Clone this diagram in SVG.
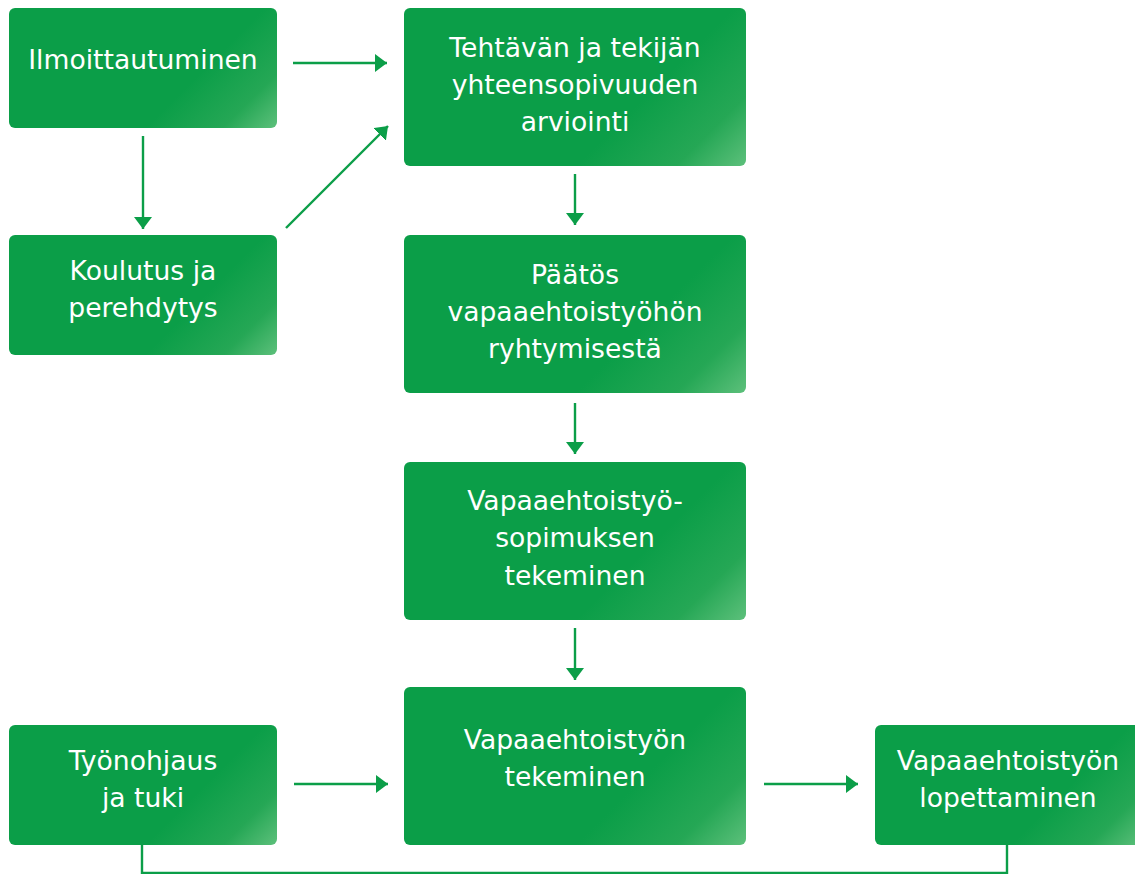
<svg xmlns="http://www.w3.org/2000/svg" width="1135" height="874" viewBox="0 0 1135 874">
<style>
.t{font-family:"DejaVu Sans",sans-serif;font-size:26.6px;fill:#fff;text-anchor:middle}
.c{stroke:#0b9e48;stroke-width:2.4;fill:none}
</style>
<defs>
<linearGradient id="gs" gradientUnits="userSpaceOnUse" x1="0" y1="0" x2="194" y2="194">
<stop offset="0" stop-color="#0b9e48"/>
<stop offset="0.66" stop-color="#0b9e48"/>
<stop offset="0.86" stop-color="#25a755"/>
<stop offset="1" stop-color="#5dc07b"/>
</linearGradient>
<linearGradient id="gl" gradientUnits="userSpaceOnUse" x1="0" y1="0" x2="250" y2="250">
<stop offset="0" stop-color="#0b9e48"/>
<stop offset="0.66" stop-color="#0b9e48"/>
<stop offset="0.86" stop-color="#25a755"/>
<stop offset="1" stop-color="#5dc07b"/>
</linearGradient>
<marker id="a" markerUnits="userSpaceOnUse" markerWidth="14" markerHeight="18" refX="12" refY="9" orient="auto">
<path d="M0,0 L12,9 L0,18 Z" fill="#0b9e48"/>
</marker>
</defs>
<g id="connectors">
<line class="c" x1="293" y1="63" x2="387" y2="63" marker-end="url(#a)"/>
<line class="c" x1="143" y1="136" x2="143" y2="229" marker-end="url(#a)"/>
<line class="c" x1="286" y1="228" x2="388" y2="126" marker-end="url(#a)"/>
<line class="c" x1="575" y1="174" x2="575" y2="225" marker-end="url(#a)"/>
<line class="c" x1="575" y1="403" x2="575" y2="454" marker-end="url(#a)"/>
<line class="c" x1="575" y1="628" x2="575" y2="680" marker-end="url(#a)"/>
<line class="c" x1="294" y1="784" x2="388" y2="784" marker-end="url(#a)"/>
<line class="c" x1="764" y1="784" x2="858" y2="784" marker-end="url(#a)"/>
<polyline class="c" points="142,845 142,873 1007,873 1007,845"/>
</g>
<g id="n1" transform="translate(9,8)"><rect fill="url(#gs)" width="268" height="120" rx="6"/><text class="t" x="134" y="61">Ilmoittautuminen</text></g>
<g id="n2" transform="translate(9,235)"><rect fill="url(#gs)" width="268" height="120" rx="6"/><text class="t" x="134" y="45">Koulutus ja</text><text class="t" x="134" y="82">perehdytys</text></g>
<g id="n3" transform="translate(404,8)"><rect fill="url(#gl)" width="342" height="158" rx="6"/><text class="t" x="171" y="49">Tehtävän ja tekijän</text><text class="t" x="171" y="86">yhteensopivuuden</text><text class="t" x="171" y="123">arviointi</text></g>
<g id="n4" transform="translate(404,235)"><rect fill="url(#gl)" width="342" height="158" rx="6"/><text class="t" x="171" y="49">Päätös</text><text class="t" x="171" y="86">vapaaehtoistyöhön</text><text class="t" x="171" y="123">ryhtymisestä</text></g>
<g id="n5" transform="translate(404,462)"><rect fill="url(#gl)" width="342" height="158" rx="6"/><text class="t" x="171" y="48">Vapaaehtoistyö-</text><text class="t" x="171" y="85">sopimuksen</text><text class="t" x="171" y="123">tekeminen</text></g>
<g id="n6" transform="translate(404,687)"><rect fill="url(#gl)" width="342" height="158" rx="6"/><text class="t" x="171" y="62">Vapaaehtoistyön</text><text class="t" x="171" y="99">tekeminen</text></g>
<g id="n7" transform="translate(9,725)"><rect fill="url(#gs)" width="268" height="120" rx="6"/><text class="t" x="134" y="45">Työnohjaus</text><text class="t" x="134" y="82">ja tuki</text></g>
<g id="n8" transform="translate(875,725)"><rect fill="url(#gs)" width="268" height="120" rx="6"/><text class="t" x="133" y="45">Vapaaehtoistyön</text><text class="t" x="133" y="82">lopettaminen</text></g>
</svg>
